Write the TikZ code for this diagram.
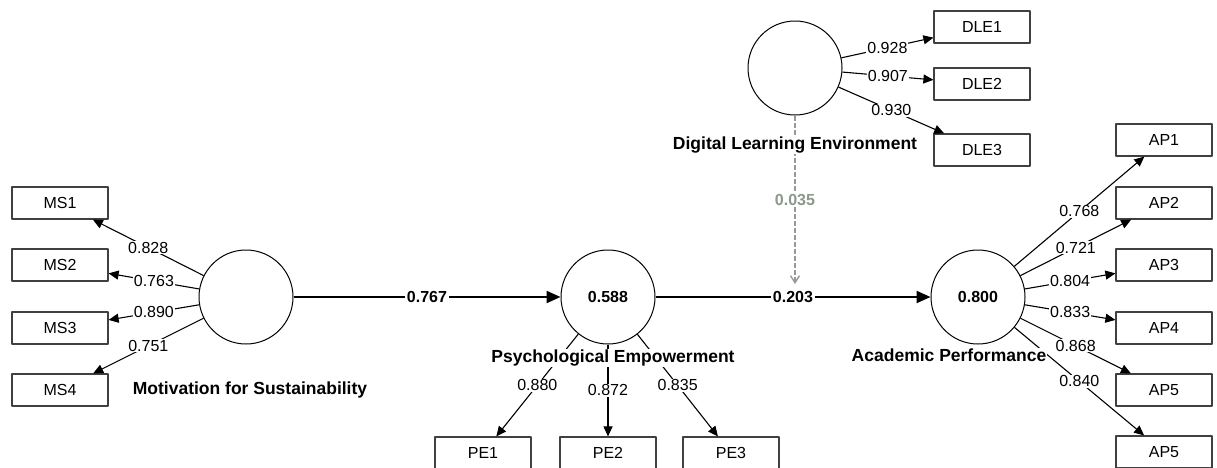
\documentclass[tikz,border=0pt]{standalone}
\usepackage{fontspec}
\setmainfont{Liberation Sans}
\usetikzlibrary{arrows.meta}
\definecolor{modgray}{RGB}{140,152,140}
\begin{document}
\begin{tikzpicture}[x=1pt, y=-1pt, line join=round, font=\fontsize{16}{18}\selectfont,
	lv/.style={circle, draw, fill=white, minimum size=94pt, inner sep=0pt, line width=1pt, font=\fontsize{16}{18}\selectfont\bfseries},
	mv/.style={rectangle, draw=black!75, fill=white, minimum width=96pt, minimum height=32pt, inner sep=0pt, line width=1.2pt},
	load/.style={-{Triangle[length=10pt,width=9pt]}, line width=1.1pt},
	strpath/.style={-{Triangle[length=14pt,width=12pt]}, line width=2.2pt},
	val/.style={fill=white, inner sep=1pt},
	coef/.style={fill=white, inner sep=2pt, font=\fontsize{16}{18}\selectfont\bfseries},
	lvname/.style={fill=white, inner sep=1pt, font=\fontsize{17.5}{20}\selectfont\bfseries}]
	\useasboundingbox (0,0) rectangle (1217,467);
	% latent variables
	\node[lv] (MS) at (246,297) {};
	\node[lv] (PE) at (608,297) {0.588};
	\node[lv] (AP) at (978,297) {0.800};
	\node[lv] (DLE) at (795,68) {};
	\coordinate (mod) at (795,284);
	% indicators
	\foreach \i/\y in {1/203,2/265,3/328,4/390}
		\node[mv] (MS\i) at (60,\y) {MS\i};
	\foreach \i/\x in {1/483,2/608,3/731}
		\node[mv] (PE\i) at (\x,453) {PE\i};
	\foreach \i/\y in {1/27,2/84,3/150}
		\node[mv] (DLE\i) at (982,\y) {DLE\i};
	\foreach \i/\t/\y in {1/AP1/140,2/AP2/203,3/AP3/265,4/AP4/328,5/AP5/390,6/AP5/452}
		\node[mv] (AP\i) at (1164,\y) {\t};
	% loadings
	\foreach \i/\v in {1/0.828,2/0.763,3/0.890,4/0.751}
		\draw[load] (MS) -- node[val] {\v} (MS\i);
	\foreach \i/\v in {1/0.880,2/0.872,3/0.835}
		\draw[load] (PE) -- node[val] {\v} (PE\i);
	\foreach \i/\v in {1/0.928,2/0.907,3/0.930}
		\draw[load] (DLE) -- node[val] {\v} (DLE\i);
	\foreach \i/\v in {1/0.768,2/0.721,3/0.804,4/0.833,5/0.868,6/0.840}
		\draw[load] (AP) -- node[val] {\v} (AP\i);
	% structural paths
	\draw[strpath] (MS) -- node[coef] {0.767} (PE);
	\draw[strpath] (PE) -- node[coef] {0.203} (AP);
	\draw[-{Straight Barb[length=7pt,width=9pt]}, black!40, line width=1.4pt, dash pattern=on 5pt off 2pt] (DLE) -- node[coef, text=modgray] {0.035} (mod);
	% names
	\node[lvname] (MSname) at (250,390) {Motivation for Sustainability};
	\node[lvname] (PEname) at (613,358) {Psychological Empowerment};
	\node[lvname] (DLEname) at (795,145) {Digital Learning Environment};
	\node[lvname] (APname) at (949,355) {Academic Performance};
\end{tikzpicture}
\end{document}
